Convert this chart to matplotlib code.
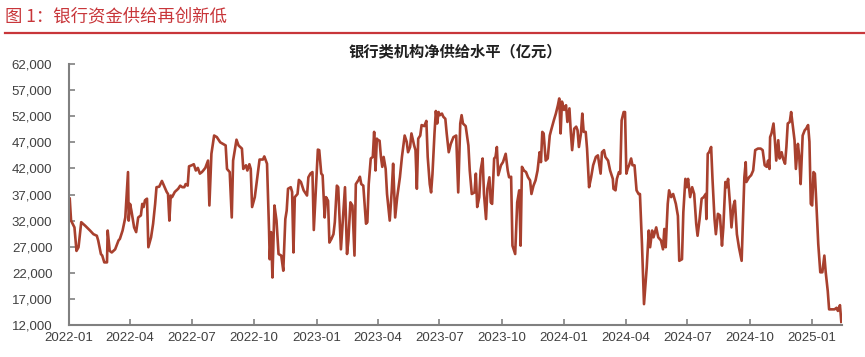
import matplotlib
matplotlib.use("Agg")
import matplotlib.pyplot as plt
import pandas as pd

plt.rcParams['font.family'] = ['Liberation Sans', 'Noto Sans CJK SC', 'DejaVu Sans']

fig_title = "图 1：银行资金供给再创新低"
chart_title = "银行类机构净供给水平（亿元）"

dates = [
    "2022-01-01", "2022-01-02", "2022-01-04", "2022-01-09", "2022-01-12", "2022-01-15", "2022-01-19", "2022-01-25",
    "2022-02-01", "2022-02-06", "2022-02-11", "2022-02-13", "2022-02-17", "2022-02-19", "2022-02-22", "2022-02-26",
    "2022-02-27", "2022-03-02", "2022-03-05", "2022-03-10", "2022-03-15", "2022-03-17", "2022-03-21", "2022-03-25",
    "2022-03-29", "2022-03-30", "2022-04-01", "2022-04-03", "2022-04-07", "2022-04-10", "2022-04-13", "2022-04-17",
    "2022-04-19", "2022-04-21", "2022-04-23", "2022-04-26", "2022-04-28", "2022-05-02", "2022-05-05", "2022-05-08",
    "2022-05-10", "2022-05-14", "2022-05-18", "2022-05-22", "2022-05-25", "2022-05-27", "2022-05-29", "2022-05-31",
    "2022-06-02", "2022-06-06", "2022-06-11", "2022-06-14", "2022-06-17", "2022-06-20", "2022-06-22", "2022-06-25",
    "2022-06-27", "2022-07-01", "2022-07-04", "2022-07-07", "2022-07-10", "2022-07-13", "2022-07-16", "2022-07-18",
    "2022-07-21", "2022-07-25", "2022-07-27", "2022-07-30", "2022-08-03", "2022-08-07", "2022-08-12", "2022-08-16",
    "2022-08-20", "2022-08-22", "2022-08-26", "2022-08-29", "2022-08-31", "2022-09-05", "2022-09-08", "2022-09-13",
    "2022-09-15", "2022-09-19", "2022-09-21", "2022-09-24", "2022-09-26", "2022-09-28", "2022-10-02", "2022-10-09",
    "2022-10-14", "2022-10-16", "2022-10-20", "2022-10-23", "2022-10-24", "2022-10-26", "2022-10-28", "2022-10-31",
    "2022-11-03", "2022-11-06", "2022-11-10", "2022-11-13", "2022-11-16", "2022-11-18", "2022-11-20", "2022-11-24",
    "2022-11-26", "2022-11-28", "2022-11-30", "2022-12-04", "2022-12-06", "2022-12-09", "2022-12-13", "2022-12-18",
    "2022-12-20", "2022-12-23", "2022-12-26", "2022-12-28", "2022-12-31",
    "2023-01-03", "2023-01-05", "2023-01-08", "2023-01-10", "2023-01-13", "2023-01-15", "2023-01-18", "2023-01-20",
    "2023-01-23", "2023-01-26", "2023-01-28", "2023-01-31", "2023-02-02", "2023-02-06", "2023-02-09", "2023-02-12",
    "2023-02-15", "2023-02-17", "2023-02-20", "2023-02-23", "2023-02-26", "2023-02-28", "2023-03-04", "2023-03-06",
    "2023-03-08", "2023-03-11", "2023-03-15", "2023-03-17", "2023-03-19", "2023-03-22", "2023-03-25", "2023-03-27",
    "2023-03-29", "2023-03-31", "2023-04-01", "2023-04-04", "2023-04-06", "2023-04-08", "2023-04-10", "2023-04-13",
    "2023-04-15", "2023-04-19", "2023-04-22", "2023-04-24", "2023-04-27", "2023-04-30", "2023-05-04", "2023-05-07",
    "2023-05-11", "2023-05-14", "2023-05-16", "2023-05-19", "2023-05-21", "2023-05-25", "2023-05-27", "2023-05-29",
    "2023-05-31", "2023-06-03", "2023-06-05", "2023-06-09", "2023-06-12", "2023-06-14", "2023-06-17", "2023-06-19",
    "2023-06-21", "2023-06-24", "2023-06-26", "2023-06-28", "2023-06-30", "2023-07-02", "2023-07-05", "2023-07-07",
    "2023-07-10", "2023-07-12", "2023-07-15", "2023-07-18", "2023-07-22", "2023-07-26", "2023-07-29", "2023-08-01",
    "2023-08-03", "2023-08-05", "2023-08-09", "2023-08-13", "2023-08-15", "2023-08-18", "2023-08-22", "2023-08-24",
    "2023-08-26", "2023-08-29", "2023-08-31", "2023-09-03", "2023-09-05", "2023-09-08", "2023-09-10", "2023-09-13",
    "2023-09-15", "2023-09-17", "2023-09-20", "2023-09-22", "2023-09-24", "2023-09-26", "2023-09-30", "2023-10-03",
    "2023-10-07", "2023-10-10", "2023-10-12", "2023-10-15", "2023-10-17", "2023-10-21", "2023-10-24", "2023-10-27",
    "2023-10-29", "2023-10-31", "2023-11-03", "2023-11-06", "2023-11-09", "2023-11-12", "2023-11-14", "2023-11-17",
    "2023-11-20", "2023-11-23", "2023-11-26", "2023-11-28", "2023-11-30", "2023-12-02", "2023-12-05", "2023-12-08",
    "2023-12-11", "2023-12-13", "2023-12-17", "2023-12-20", "2023-12-23", "2023-12-25", "2023-12-27", "2023-12-29",
    "2024-01-01", "2024-01-04", "2024-01-06", "2024-01-09", "2024-01-11", "2024-01-13", "2024-01-16", "2024-01-19",
    "2024-01-21", "2024-01-23", "2024-01-26", "2024-01-28", "2024-01-30", "2024-02-02", "2024-02-04", "2024-02-07",
    "2024-02-10", "2024-02-13", "2024-02-17", "2024-02-20", "2024-02-24", "2024-02-26", "2024-02-29", "2024-03-02",
    "2024-03-06", "2024-03-09", "2024-03-13", "2024-03-14", "2024-03-17", "2024-03-19", "2024-03-22", "2024-03-24",
    "2024-03-26", "2024-03-29", "2024-03-31", "2024-04-02", "2024-04-04", "2024-04-06", "2024-04-09", "2024-04-11",
    "2024-04-14", "2024-04-17", "2024-04-20", "2024-04-22", "2024-04-25", "2024-04-28", "2024-05-02", "2024-05-05",
    "2024-05-07", "2024-05-10", "2024-05-12", "2024-05-16", "2024-05-19", "2024-05-23", "2024-05-26", "2024-05-28",
    "2024-05-30", "2024-06-02", "2024-06-04", "2024-06-07", "2024-06-10", "2024-06-14", "2024-06-17", "2024-06-19",
    "2024-06-23", "2024-06-25", "2024-06-28", "2024-06-30", "2024-07-02", "2024-07-05", "2024-07-08", "2024-07-11",
    "2024-07-14", "2024-07-16", "2024-07-19", "2024-07-22", "2024-07-25", "2024-07-28", "2024-07-29", "2024-07-31",
    "2024-08-02", "2024-08-05", "2024-08-07", "2024-08-10", "2024-08-12", "2024-08-15", "2024-08-18", "2024-08-21",
    "2024-08-23", "2024-08-26", "2024-08-28", "2024-08-30", "2024-09-02", "2024-09-04", "2024-09-07", "2024-09-09",
    "2024-09-12", "2024-09-15", "2024-09-19", "2024-09-23", "2024-09-25", "2024-09-26", "2024-09-30", "2024-10-03",
    "2024-10-06", "2024-10-09", "2024-10-13", "2024-10-17", "2024-10-20", "2024-10-23", "2024-10-26", "2024-10-28",
    "2024-10-30", "2024-10-31", "2024-11-02", "2024-11-05", "2024-11-07", "2024-11-09", "2024-11-12", "2024-11-14",
    "2024-11-17", "2024-11-19", "2024-11-22", "2024-11-24", "2024-11-26", "2024-11-29", "2024-12-01", "2024-12-03",
    "2024-12-06", "2024-12-08", "2024-12-11", "2024-12-13", "2024-12-15", "2024-12-18", "2024-12-21", "2024-12-23",
    "2024-12-26", "2024-12-28", "2024-12-30", "2025-01-01", "2025-01-03", "2025-01-05", "2025-01-07", "2025-01-10",
    "2025-01-13", "2025-01-16", "2025-01-19", "2025-01-21", "2025-01-24", "2025-01-26", "2025-01-30", "2025-02-03",
    "2025-02-06", "2025-02-08", "2025-02-11", "2025-02-13",
]

supply = [
    33800, 36300, 32000, 30700, 26200, 26900, 31700, 31000,
    30100, 29400, 29100, 28200, 25600, 25300, 24000, 24000,
    30100, 26200, 25900, 26500, 28200, 28500, 30100, 32600,
    41300, 32000, 35200, 33900, 30700, 29800, 32600, 33000,
    35200, 34600, 35900, 36200, 26900, 28800, 31400, 35200,
    38400, 38500, 39600, 38400, 37500, 37100, 32000, 36800,
    36500, 37500, 38100, 38700, 38400, 38400, 39000, 38700,
    42400, 42600, 42800, 41600, 42100, 41000, 41300, 41600,
    42100, 43500, 34900, 44800, 48300, 48000, 47000, 46700,
    46400, 41900, 41300, 32600, 43500, 47500, 46400, 45800,
    41900, 42600, 41600, 42800, 41900, 34600, 36500, 43700,
    43700, 44300, 42900, 30100, 24600, 29800, 21100, 34900,
    32000, 25600, 25300, 22400, 32300, 33900, 38100, 38400,
    37500, 25900, 36500, 37100, 39800, 39400, 37800, 36800,
    40300, 41000, 41300, 30200, 37800,
    45600, 45500, 41000, 40700, 32600, 36500, 35800, 27800,
    28500, 29400, 31700, 38700, 38400, 26500, 32600, 38400,
    25600, 28200, 35500, 34900, 25300, 39000, 39800, 40400,
    39000, 38700, 31400, 31700, 39000, 43900, 44200, 49000,
    41600, 47700, 47500, 47300, 44200, 42300, 44200, 41900,
    37100, 32000, 37800, 42900, 32600, 36500, 40300, 44200,
    48300, 47100, 45100, 46100, 48700, 46400, 45500, 38100,
    47700, 48300, 50300, 50100, 51100, 44200, 39000, 37400,
    40900, 48700, 53000, 50600, 52800, 52200, 52500, 51900,
    51500, 48700, 45100, 46700, 48000, 48300, 37400, 50600,
    52200, 50600, 50100, 46400, 41600, 37100, 37400, 41000,
    34600, 36500, 41600, 43900, 37100, 32300, 38100, 40300,
    35500, 35200, 43900, 44200, 46100, 40700, 42600, 43200,
    44800, 41600, 40300, 40400, 27200, 25600, 35500, 37800,
    27200, 42300, 41600, 41300, 40300, 39700, 37100, 38700,
    39700, 41600, 45100, 43200, 49000, 48700, 43500, 43900,
    48300, 49300, 51200, 52500, 54100, 55400, 48700, 54800,
    53200, 54100, 50900, 53500, 49000, 45500, 49600, 50000,
    49300, 46100, 48700, 52500, 49000, 49000, 45800, 38400,
    40300, 42600, 44200, 44500, 41000, 45100, 45500, 44200,
    43500, 41600, 40000, 38100, 37800, 40000, 41300, 41000,
    51200, 52800, 52800, 41000, 42000, 42600, 43900, 42600,
    42600, 37800, 37100, 37100, 27500, 16000, 23000, 30100,
    26900, 30100, 28800, 30700, 28800, 28200, 26500, 30400,
    26900, 35200, 37800, 36500, 37100, 35200, 32900, 24300,
    24600, 33600, 40000, 38400, 40000, 36500, 38400, 37100,
    31400, 29100, 32300, 36200, 36500, 37100, 32300, 44800,
    45100, 46100, 40000, 32300, 29400, 33300, 33000, 27200,
    30700, 39400, 38400, 40000, 34900, 30700, 34900, 35800,
    29400, 26900, 24300, 40300, 43200, 39400, 40300, 40700,
    41600, 45500, 45800, 45800, 45500, 42600, 42300, 43500,
    41900, 48000, 48700, 50600, 47400, 43500, 47400, 43900,
    45100, 43900, 42900, 46100, 50600, 50900, 52800, 50600,
    47400, 41900, 46700, 44200, 39000, 48300, 49300, 49600,
    50300, 47100, 35200, 34900, 41300, 41000, 35800, 27500,
    22100, 22100, 25300, 22100, 18500, 15000, 15000, 15000,
    15300, 14700, 15800, 12600,
]

y_ticks = [12000, 17000, 22000, 27000, 32000, 37000, 42000, 47000, 52000, 57000, 62000]
x_ticks = ["2022-01", "2022-04", "2022-07", "2022-10", "2023-01", "2023-04", "2023-07",
           "2023-10", "2024-01", "2024-04", "2024-07", "2024-10", "2025-01"]

LINE_COLOR = "#A8402E"
RED = "#C8363A"
TEXT = "#404040"
AXIS = "#808080"

fig = plt.figure(figsize=(8.65, 3.57), dpi=100)
ax = fig.add_axes([0.0798, 0.0896, 0.8936, 0.7311])

x = pd.to_datetime(dates)
ax.plot(x, supply, color=LINE_COLOR, lw=1.9, solid_joinstyle='round')

ax.set_ylim(y_ticks[0], y_ticks[-1])
ax.set_yticks(y_ticks)
ax.set_yticklabels([f"{v:,}" for v in y_ticks])
xt = pd.to_datetime(x_ticks)
ax.set_xticks(xt)
ax.set_xticklabels(x_ticks)
ax.set_xlim(pd.Timestamp("2022-01-01"), pd.Timestamp("2025-02-14"))

for s in ["top", "right"]:
    ax.spines[s].set_visible(False)
for s in ["left", "bottom"]:
    ax.spines[s].set_color(AXIS)
    ax.spines[s].set_linewidth(1.5)
ax.tick_params(axis="both", direction="in", length=4, width=1.2, color=AXIS,
               labelsize=9.5, labelcolor=TEXT)
ax.tick_params(axis="y", pad=12)
ax.tick_params(axis="x", pad=5)

fig.text(0.006, 0.955, fig_title, family=['Noto Sans CJK SC', 'DejaVu Sans'],
         fontsize=12.5, color=RED, ha="left", va="center")
fig.add_artist(plt.Line2D([0.006, 1.0], [0.908, 0.908], transform=fig.transFigure,
                          color=RED, lw=1.6))
fig.text(0.526, 0.857, chart_title, family=['Noto Sans CJK SC', 'DejaVu Sans'],
         fontsize=11, fontweight="bold", color="#202020", ha="center", va="center")

fig.savefig("out.png", dpi=100)
